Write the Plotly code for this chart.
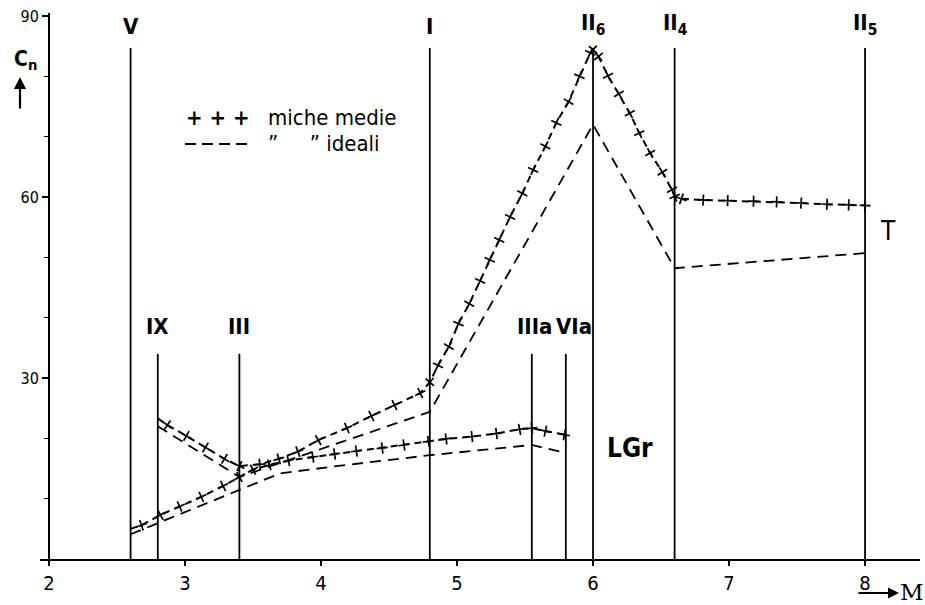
import plotly.graph_objects as go

# Compounds: name and molecular position M
compound_names = ["V", "IX", "III", "I", "IIIa", "VIa", "II<sub>6</sub>", "II<sub>4</sub>", "II<sub>5</sub>"]
compound_m = [2.6, 2.8, 3.4, 4.8, 5.55, 5.8, 6.0, 6.6, 8.0]
compound_main = [True, False, False, True, False, False, True, True, True]

# miche medie: branch IX -> III -> I -> II6 -> II4 -> II5
medie_a_m = [2.80, 2.87, 3.01, 3.15, 3.29, 3.40, 3.55, 3.69, 3.83, 3.98, 4.19, 4.37, 4.54, 4.73,
             4.80, 4.86, 4.94, 5.01, 5.09, 5.17, 5.24, 5.31, 5.39, 5.48, 5.56, 5.65, 5.73, 5.82,
             5.90, 5.98, 6.00, 6.04, 6.11, 6.19, 6.27, 6.34, 6.42, 6.51, 6.58, 6.60, 6.65, 6.81,
             6.99, 7.18, 7.35, 7.53, 7.72, 7.88, 8.00]
medie_a_cn = [23.3, 22.2, 20.4, 18.5, 16.6, 15.4, 15.7, 16.6, 17.8, 19.7, 21.7, 23.7, 25.5, 27.5,
              29.3, 32.1, 35.2, 39.0, 42.3, 46.1, 49.6, 52.9, 56.7, 60.6, 64.5, 68.4, 72.3, 75.8,
              80.0, 83.9, 84.4, 83.3, 80.1, 77.1, 73.9, 70.6, 67.3, 64.1, 61.2, 60.1, 59.7, 59.5,
              59.4, 59.3, 59.2, 59.0, 58.8, 58.7, 58.6]

# miche medie: branch V -> III -> IIIa -> VIa
medie_b_m = [2.60, 2.68, 2.82, 2.96, 3.12, 3.28, 3.40, 3.50, 3.62, 3.76, 3.94, 4.10, 4.26, 4.45,
             4.61, 4.79, 4.92, 5.11, 5.29, 5.46, 5.55, 5.65, 5.79]
medie_b_cn = [5.0, 5.6, 7.3, 8.7, 10.3, 12.1, 13.6, 14.8, 15.6, 16.3, 16.9, 17.4, 17.9, 18.4,
              18.9, 19.5, 19.9, 20.3, 20.8, 21.5, 21.7, 21.2, 20.6]

# ideali: branch IX -> III -> I -> II6 -> II4 -> II5
ideali_a_m = [2.8, 3.4, 4.8, 6.0, 6.6, 8.0]
ideali_a_cn = [22.0, 13.6, 24.4, 72.0, 48.2, 50.7]

# ideali: branch V -> III -> IIIa -> VIa
ideali_b_m = [2.6, 3.4, 3.7, 4.19, 4.8, 5.55, 5.8]
ideali_b_cn = [4.1, 11.4, 14.2, 15.6, 17.2, 18.9, 17.6]

x_tick_vals = [2, 3, 4, 5, 6, 7, 8]
y_tick_vals = [30, 60, 90]

LABEL_FONT = "Liberation Sans Narrow, DejaVu Sans Condensed, DejaVu Sans, sans-serif"
INK = "black"

# plot geometry (pixels)
W, H = 925, 605
ML, MR, MT, MB = 40, 5, 13, 46
X_RANGE = [1.934, 8.404]
Y_RANGE = [0, 90.5]
plot_w = W - ML - MR

fig = go.Figure()

# compound verticals
tall_top, short_top = 84.7, 34.0
vx, vy = [], []
for m, main in zip(compound_m, compound_main):
    vx += [m, m, None]
    vy += [0, tall_top if main else short_top, None]
fig.add_trace(go.Scatter(x=vx, y=vy, mode="lines", line=dict(color=INK, width=1.8),
                         hoverinfo="skip", showlegend=False))

# ideali curves
for xs, ys in [(ideali_a_m, ideali_a_cn), (ideali_b_m, ideali_b_cn)]:
    fig.add_trace(go.Scatter(x=xs, y=ys, mode="lines",
                             line=dict(color=INK, width=1.8, dash="11px,7px"),
                             name="ideali", showlegend=False))

# miche medie curves: dashed line with crosses aligned to the direction of the curve
for xs, ys in [(medie_a_m, medie_a_cn), (medie_b_m, medie_b_cn)]:
    fig.add_trace(go.Scatter(x=xs, y=ys, mode="lines+markers",
                             line=dict(color=INK, width=2, dash="7px,5px"),
                             marker=dict(symbol="cross-thin", size=8, angle=0, angleref="previous",
                                         line=dict(color=INK, width=1.7)),
                             name="miche medie", showlegend=False))

# per-label horizontal nudges for the crowded pair
label_xshift = {"IIIa": 3, "VIa": 8}

annotations = []
# compound labels above the verticals
for name, m, main in zip(compound_names, compound_m, compound_main):
    annotations.append(dict(x=m, y=tall_top if main else short_top, xref="x", yref="y",
                            text=name, showarrow=False, xanchor="center", yanchor="bottom",
                            yshift=7 if main else 13, xshift=label_xshift.get(name, 0),
                            font=dict(family=LABEL_FONT, size=22, color=INK, weight="bold")))

# region labels
annotations.append(dict(x=6.27, y=18.4, xref="x", yref="y", text="LGr", showarrow=False,
                        xanchor="center", yanchor="middle",
                        font=dict(family=LABEL_FONT, size=26, color=INK, weight="bold")))
annotations.append(dict(x=8.17, y=54.3, xref="x", yref="y", text="T", showarrow=False,
                        xanchor="center", yanchor="middle",
                        font=dict(family=LABEL_FONT, size=26, color=INK)))


def px_x(p):
    return (p - ML) / plot_w


def px_y(p):
    return (H - MB - p) / (H - MT - MB)


def note(text, x, y, size, family=LABEL_FONT, weight="normal", xanchor="center"):
    return dict(x=px_x(x), y=px_y(y), xref="paper", yref="paper", text=text, showarrow=False,
                xanchor=xanchor, yanchor="middle",
                font=dict(family=family, size=size, color=INK, weight=weight))


# axis titles with arrows
annotations.append(note("C<sub>n</sub>", 25, 60, 21, weight="bold"))
annotations.append(dict(x=px_x(20), y=px_y(77), xref="paper", yref="paper", text="",
                        showarrow=True, ax=0, ay=33, arrowhead=2, arrowsize=1.1, arrowwidth=2.2,
                        arrowcolor=INK))
annotations.append(dict(x=px_x(899), y=px_y(593), xref="paper", yref="paper", text="",
                        showarrow=True, ax=-42, ay=0, arrowhead=2, arrowsize=1.1, arrowwidth=2,
                        arrowcolor=INK))
annotations.append(note("M", 912, 592, 23, family="DejaVu Serif, serif"))

# key
annotations.append(note("+ + +", 184, 118, 22, weight="bold", xanchor="left"))
annotations.append(note("miche medie", 266, 118, 22, xanchor="left"))
annotations.append(note("\u201d     \u201d ideali", 266, 143, 22, xanchor="left"))

shapes = [dict(type="line", xref="paper", yref="paper", x0=px_x(185), x1=px_x(252),
               y0=px_y(144), y1=px_y(144), line=dict(color=INK, width=1.8, dash="11px,6px"))]

fig.update_layout(
    width=W, height=H,
    margin=dict(l=ML, r=MR, t=MT, b=MB),
    paper_bgcolor="white", plot_bgcolor="white",
    annotations=annotations, shapes=shapes,
    showlegend=False,
    xaxis=dict(range=X_RANGE, tickvals=x_tick_vals, ticktext=[str(v) for v in x_tick_vals],
               showgrid=False, zeroline=False, showline=True, linecolor=INK, linewidth=2,
               ticks="outside", ticklen=5, tickwidth=1.5, tickcolor=INK,
               tickfont=dict(family=LABEL_FONT, size=20, color=INK)),
    yaxis=dict(range=Y_RANGE, tickvals=y_tick_vals, ticktext=[str(v) for v in y_tick_vals],
               anchor="free", position=(49 - ML) / plot_w,
               showgrid=False, zeroline=False, showline=True, linecolor=INK, linewidth=2,
               ticks="outside", ticklen=6, tickwidth=1.5, tickcolor=INK,
               minor=dict(dtick=10, tick0=0, ticks="outside", ticklen=4, tickwidth=1.3, tickcolor=INK),
               tickfont=dict(family=LABEL_FONT, size=16, color=INK)),
)

fig.write_html("out.html")
